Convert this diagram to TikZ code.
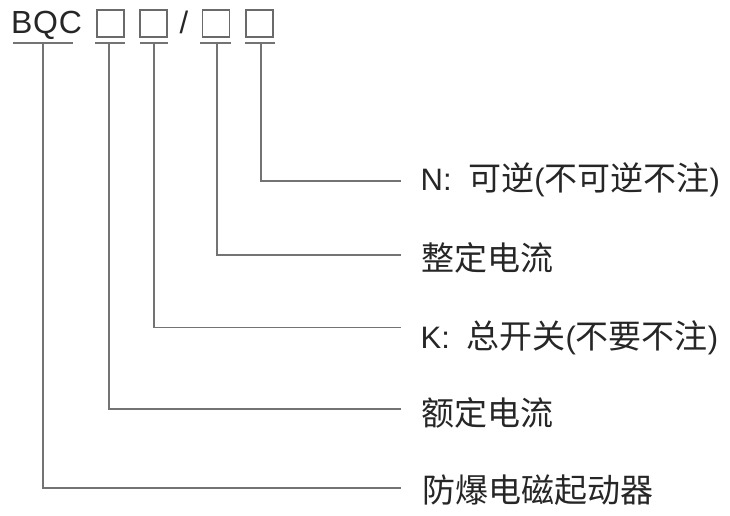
\documentclass[tikz,border=0pt]{standalone}
\usepackage{fontspec}
\setmainfont{Liberation Sans}
\newfontfamily\cjk{Noto Sans CJK SC}
\newcommand\zhtext[1]{{\cjk\fontsize{33}{40}\selectfont #1}}
\definecolor{textgray}{HTML}{262626}
\definecolor{linegray}{HTML}{737373}
\definecolor{boxgray}{HTML}{6A6A6A}
\begin{document}
\begin{tikzpicture}[x=1pt,y=-1pt,
  line/.style={draw=linegray, line width=1.8pt},
  box/.style={draw=boxgray, line width=1.6pt, minimum size=27pt, inner sep=0pt},
  lab/.style={anchor=base west, inner sep=0pt, text=textgray, font=\fontsize{31}{36}\selectfont}]
\useasboundingbox (0,0) rectangle (730,515);
% code
\node[lab, font=\fontsize{32}{36}\selectfont] (bqc) at (10.8,33.3) {B\kern0.8pt Q\kern0.8pt C};
\node[box] (b1) at (110.5,23.7) {};
\node[box] (b2) at (153.7,23.7) {};
\node[lab, font=\fontsize{31}{36}\selectfont] (sl) at (179.5,33.3) {/};
\node[box] (b3) at (215.8,23.7) {};
\node[box] (b4) at (259.2,23.7) {};
% underlines
\coordinate (u0a) at (13,43.3);  \coordinate (u0b) at (73,43.3);
\coordinate (u1a) at (95,43.3);  \coordinate (u1b) at (124.5,43.3);
\coordinate (u2a) at (140,43.3); \coordinate (u2b) at (168,43.3);
\coordinate (u3a) at (200,43.3); \coordinate (u3b) at (231,43.3);
\coordinate (u4a) at (245,43.3); \coordinate (u4b) at (275,43.3);
\foreach \i in {0,...,4} {\draw[line] (u\i a) -- (u\i b);}
% stems
\coordinate (v0) at (43,43.3);
\coordinate (v1) at (109.3,43.3);
\coordinate (v2) at (154,43.3);
\coordinate (v3) at (217,43.3);
\coordinate (v4) at (261,43.3);
\coordinate (e4) at (400.5,180.7);
\coordinate (e3) at (400.5,255);
\coordinate (e2) at (400.5,327.5);
\coordinate (e1) at (400.5,409);
\coordinate (e0) at (400.5,487.7);
\foreach \i in {0,...,4} {\draw[line] (v\i) |- (e\i);}
% labels
\node[lab] (t4) at (420.5,190) {N:\kern8pt\ \zhtext{可逆}(\zhtext{不可逆不注})};
\node[lab] (t3) at (421,270.5) {\zhtext{整定电流}};
\node[lab] (t2) at (420.5,348) {K:\kern8pt\ \zhtext{总开关}(\zhtext{不要不注})};
\node[lab] (t1) at (421,425.5) {\zhtext{额定电流}};
\node[lab] (t0) at (422,502.5) {\zhtext{防爆电磁起动器}};
\end{tikzpicture}
\end{document}
